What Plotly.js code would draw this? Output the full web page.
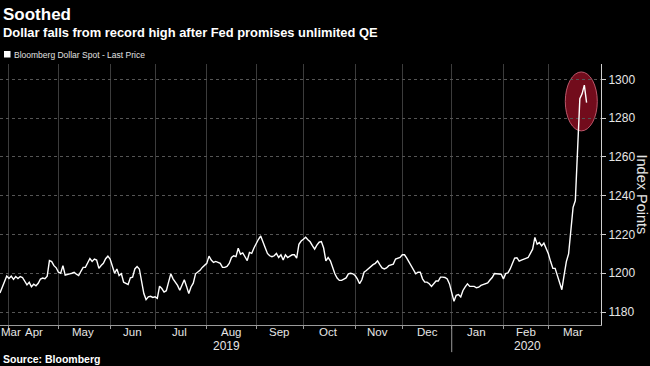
<!DOCTYPE html>
<html>
<head>
<meta charset="utf-8">
<script src="https://cdn.plot.ly/plotly-3.0.1.min.js"></script>
<style>html,body{margin:0;padding:0;background:#000;}#chart{width:650px;height:366px;}</style>
</head>
<body>
<div id="chart"></div>
<script>
// ---- data ----
const dates = [
"2019-03-26","2019-03-29",
"2019-04-01","2019-04-02","2019-04-03","2019-04-04","2019-04-05",
"2019-04-08","2019-04-09","2019-04-10","2019-04-11","2019-04-12",
"2019-04-15","2019-04-16","2019-04-17","2019-04-18","2019-04-19",
"2019-04-22","2019-04-23","2019-04-24","2019-04-25","2019-04-26",
"2019-04-29","2019-04-30","2019-05-01","2019-05-02","2019-05-03",
"2019-05-06","2019-05-07","2019-05-08","2019-05-09","2019-05-10",
"2019-05-13","2019-05-14","2019-05-15","2019-05-16","2019-05-17",
"2019-05-20","2019-05-21","2019-05-22","2019-05-23","2019-05-24",
"2019-05-27","2019-05-28","2019-05-29","2019-05-30","2019-05-31",
"2019-06-03","2019-06-04","2019-06-05","2019-06-06","2019-06-07",
"2019-06-10","2019-06-11","2019-06-12","2019-06-13","2019-06-14",
"2019-06-17","2019-06-18","2019-06-19","2019-06-20","2019-06-21",
"2019-06-24","2019-06-25","2019-06-26","2019-06-27","2019-06-28",
"2019-07-01","2019-07-02","2019-07-03","2019-07-04","2019-07-05",
"2019-07-08","2019-07-09","2019-07-10","2019-07-11","2019-07-12",
"2019-07-15","2019-07-16","2019-07-17","2019-07-18","2019-07-19",
"2019-07-22","2019-07-23","2019-07-24","2019-07-25","2019-07-26",
"2019-07-29","2019-07-30","2019-07-31","2019-08-01","2019-08-02",
"2019-08-05","2019-08-06","2019-08-07","2019-08-08","2019-08-09",
"2019-08-12","2019-08-13","2019-08-14","2019-08-15","2019-08-16",
"2019-08-19","2019-08-20","2019-08-21","2019-08-22","2019-08-23",
"2019-08-26","2019-08-27","2019-08-28","2019-08-29","2019-08-30",
"2019-09-02","2019-09-03","2019-09-04","2019-09-05","2019-09-06",
"2019-09-09","2019-09-10","2019-09-11","2019-09-12","2019-09-13",
"2019-09-16","2019-09-17","2019-09-18","2019-09-19","2019-09-20",
"2019-09-23","2019-09-24","2019-09-25","2019-09-26","2019-09-27",
"2019-09-30","2019-10-01","2019-10-02","2019-10-03","2019-10-04",
"2019-10-07","2019-10-08","2019-10-09","2019-10-10","2019-10-11",
"2019-10-14","2019-10-15","2019-10-16","2019-10-17","2019-10-18",
"2019-10-21","2019-10-22","2019-10-23","2019-10-24","2019-10-25",
"2019-10-28","2019-10-29","2019-10-30","2019-10-31","2019-11-01",
"2019-11-04","2019-11-05","2019-11-06","2019-11-07","2019-11-08",
"2019-11-11","2019-11-12","2019-11-13","2019-11-14","2019-11-15",
"2019-11-18","2019-11-19","2019-11-20","2019-11-21","2019-11-22",
"2019-11-25","2019-11-26","2019-11-27","2019-11-28","2019-11-29",
"2019-12-02","2019-12-03","2019-12-04","2019-12-05","2019-12-06",
"2019-12-09","2019-12-10","2019-12-11","2019-12-12","2019-12-13",
"2019-12-16","2019-12-17","2019-12-18","2019-12-19","2019-12-20",
"2019-12-23","2019-12-24","2019-12-25","2019-12-26","2019-12-27",
"2019-12-30","2019-12-31","2020-01-01","2020-01-02","2020-01-03",
"2020-01-06","2020-01-07","2020-01-08","2020-01-09","2020-01-10",
"2020-01-13","2020-01-14","2020-01-15","2020-01-16","2020-01-17",
"2020-01-20","2020-01-21","2020-01-22","2020-01-23","2020-01-24",
"2020-01-27","2020-01-28","2020-01-29","2020-01-30","2020-01-31",
"2020-02-03","2020-02-04","2020-02-05","2020-02-06","2020-02-07",
"2020-02-10","2020-02-11","2020-02-12","2020-02-13","2020-02-14",
"2020-02-17","2020-02-18","2020-02-19","2020-02-20","2020-02-21",
"2020-02-24","2020-02-25","2020-02-26","2020-02-27","2020-02-28",
"2020-03-02","2020-03-03","2020-03-04","2020-03-05","2020-03-06",
"2020-03-09","2020-03-10","2020-03-11","2020-03-12","2020-03-13",
"2020-03-16","2020-03-17","2020-03-18","2020-03-19","2020-03-20",
"2020-03-23","2020-03-24","2020-03-25"
];
const values = [
1189.8,1198.6,
1197.3,1198.5,1196.8,1198.3,1197.3,
1198.3,1197.8,1196.0,1194.0,1195.3,
1193.0,1194.3,1193.5,1194.8,1197.0,
1197.5,1197.2,1198.5,1206.5,1206.0,
1203.9,1202.8,1200.5,1200.0,1203.9,
1199.0,1199.5,1199.7,1200.0,1200.5,
1199.5,1198.8,1201.0,1203.0,1203.0,
1205.0,1207.6,1206.1,1207.3,1206.8,
1202.5,1204.0,1205.1,1207.5,1208.8,
1207.3,1203.9,1200.0,1202.2,1198.8,
1199.7,1195.4,1194.8,1194.2,1197.6,
1198.0,1202.2,1203.4,1202.2,1195.4,
1189.5,1186.4,1187.8,1188.1,1187.5,
1187.8,1187.0,1193.3,1192.1,1190.3,
1191.0,1195.4,1199.7,1197.1,1195.5,
1193.7,1191.2,1193.7,1196.6,1193.2,
1189.5,1192.9,1194.9,1199.7,1200.5,
1201.5,1203.0,1203.9,1205.1,1208.8,
1206.8,1205.6,1206.1,1205.6,1205.1,
1203.0,1203.0,1203.5,1205.0,1208.1,
1209.0,1208.6,1212.9,1209.8,1210.5,
1208.5,1206.5,1210.7,1210.2,1213.0,
1215.5,1217.5,1219.2,1216.6,1213.2,
1210.2,1209.0,1208.5,1209.0,1210.2,
1208.1,1209.5,1206.8,1209.5,1208.1,
1208.8,1209.5,1209.5,1207.8,1214.9,
1216.6,1217.5,1218.6,1217.3,1216.2,
1214.2,1212.4,1214.5,1216.0,1216.3,
1213.0,1206.4,1208.1,1206.4,1203.0,
1199.7,1197.5,1196.3,1196.3,1197.1,
1197.6,1199.7,1200.0,1199.7,1198.8,
1197.1,1194.6,1196.6,1200.5,1201.4,
1202.5,1203.4,1204.4,1205.1,1206.4,
1204.4,1202.7,1202.2,1202.7,1203.9,
1204.3,1204.7,1207.3,1207.8,1208.1,
1209.5,1209.5,1207.8,1205.6,1203.4,
1201.4,1199.7,1200.5,1200.5,1197.1,
1195.4,1195.4,1194.6,1193.2,1194.9,
1196.0,1196.0,1198.0,1198.0,1197.8,
1197.0,1194.5,1190.0,1185.5,1188.6,
1189.0,1187.8,1191.1,1193.0,1194.5,
1193.2,1193.2,1193.2,1192.5,1192.8,
1193.7,1194.2,1194.9,1195.0,1196.5,
1197.8,1199.8,1199.7,1199.7,1199.5,
1197.1,1199.8,1200.2,1202.2,1205.0,
1207.8,1208.0,1206.2,1206.8,1207.4,
1207.7,1208.1,1210.0,1212.4,1218.5,
1215.0,1215.8,1214.1,1215.5,1213.0,
1210.0,1206.0,1202.5,1202.5,1199.0,
1195.5,1191.5,1199.0,1206.0,1210.0,
1224.0,1234.0,1237.5,1264.0,1290.0,
1292.5,1297.0,1288.0
];
const seriesName = "Bloomberg Dollar Spot - Last Price";
const monthLabelDates = ["2019-04-02","2019-04-16","2019-05-16","2019-06-17","2019-07-16","2019-08-16","2019-09-16","2019-10-16","2019-11-15","2019-12-17","2020-01-16","2020-02-17","2020-03-17"];
const monthLabels = ["Mar","Apr","May","Jun","Jul","Aug","Sep","Oct","Nov","Dec","Jan","Feb","Mar"];
const monthStarts = ["2019-04-01","2019-05-01","2019-06-03","2019-07-01","2019-08-01","2019-09-02","2019-10-01","2019-11-01","2019-12-02","2020-01-01","2020-02-03","2020-03-02"];
const yearLabels = ["2019","2020"];
const yTicks = [1180,1200,1220,1240,1260,1280,1300];

// ---- chart ----
const SANS = "'Liberation Sans',Arial,sans-serif";
const W = 600.7, H = 261.3; // plot area size in px
const px = v => v / W;
const py = v => 1 + (64 - v) / H;

const trace = {
  x: dates, y: values, type: 'scatter', mode: 'lines', name: seriesName,
  line: {color: '#ffffff', width: 1.4}, showlegend: false, hoverinfo: 'x+y'
};

const annotations = [
  {text: '<b>Soothed</b>', xref: 'paper', yref: 'paper', x: px(1), y: py(14), xanchor: 'left', yanchor: 'middle',
   showarrow: false, font: {family: SANS, size: 17, color: '#ffffff'}},
  {text: '<b>Dollar falls from record high after Fed promises unlimited QE</b>', xref: 'paper', yref: 'paper',
   x: px(1), y: py(32.5), xanchor: 'left', yanchor: 'middle', showarrow: false,
   font: {family: SANS, size: 12.9, color: '#ffffff'}},
  {text: seriesName, xref: 'paper', yref: 'paper', x: px(11.5), y: py(54.5), xanchor: 'left', yanchor: 'middle',
   showarrow: false, font: {family: SANS, size: 8.5, color: '#e0e0e0'}},
  {text: '<b>Source: Bloomberg</b>', xref: 'paper', yref: 'paper', x: px(1), y: py(359), xanchor: 'left', yanchor: 'middle',
   showarrow: false, font: {family: SANS, size: 10.5, color: '#ffffff'}},
  {text: yearLabels[0], xref: 'paper', yref: 'paper', x: px(226.5), y: py(346), xanchor: 'center', yanchor: 'middle',
   showarrow: false, font: {family: SANS, size: 12, color: '#e6e6e6'}},
  {text: yearLabels[1], xref: 'paper', yref: 'paper', x: px(527), y: py(346), xanchor: 'center', yanchor: 'middle',
   showarrow: false, font: {family: SANS, size: 12, color: '#e6e6e6'}},
  {text: 'Index Points', xref: 'paper', yref: 'paper', x: px(642), y: py(195), xanchor: 'center', yanchor: 'middle',
   textangle: 90, showarrow: false, font: {family: SANS, size: 14.5, color: '#e6e6e6'}}
];
monthLabels.forEach((m, i) => annotations.push({
  text: m, xref: 'x', yref: 'paper', x: monthLabelDates[i], y: py(332.5), xanchor: 'center', yanchor: 'middle',
  showarrow: false, font: {family: SANS, size: 11.5, color: '#e6e6e6'}
}));

const layout = {
  width: 650, height: 366,
  paper_bgcolor: '#000', plot_bgcolor: '#000',
  margin: {l: 0, r: 49.3, t: 64, b: 40.7, pad: 0},
  showlegend: false,
  xaxis: {
    type: 'date',
    range: ['2019-03-26', '2020-04-02 10:00'],
    rangebreaks: [{bounds: ['sat', 'mon']}],
    tickmode: 'array', tickvals: monthStarts, showticklabels: false,
    ticks: 'outside', ticklen: 3, tickcolor: '#9a9a9a',
    showgrid: true, gridcolor: '#3c3c3c', gridwidth: 1, zeroline: false,
    showline: true, linecolor: '#9a9a9a', linewidth: 1,
    fixedrange: true
  },
  yaxis: {
    side: 'right', range: [1173.3, 1307.9],
    tickmode: 'array', tickvals: yTicks,
    ticks: 'outside', ticklen: 4, tickcolor: '#cfcfcf',
    showline: true, linecolor: '#cfcfcf', linewidth: 1,
    showgrid: true, gridcolor: '#555555', griddash: 'dot', gridwidth: 1,
    zeroline: false,
    tickfont: {family: SANS, size: 12, color: '#e6e6e6'},
    fixedrange: true
  },
  shapes: [
    {type: 'circle', xref: 'paper', yref: 'y', x0: px(565), x1: px(597), y0: 1273.4, y1: 1303.8,
     fillcolor: 'rgba(130,14,32,0.88)', line: {color: 'rgba(200,95,115,0.9)', width: 1}, layer: 'below'},
    {type: 'line', xref: 'x', yref: 'paper', x0: '2020-01-01', x1: '2020-01-01', y0: 0, y1: -0.104,
     line: {color: '#9a9a9a', width: 1}},
    {type: 'rect', xref: 'paper', yref: 'paper', x0: px(4), x1: px(10.5), y0: py(57.5), y1: py(51),
     fillcolor: '#ffffff', line: {width: 0}}
  ],
  annotations: annotations
};

Plotly.newPlot('chart', [trace], layout, {displayModeBar: false, staticPlot: true});
</script>
</body>
</html>
